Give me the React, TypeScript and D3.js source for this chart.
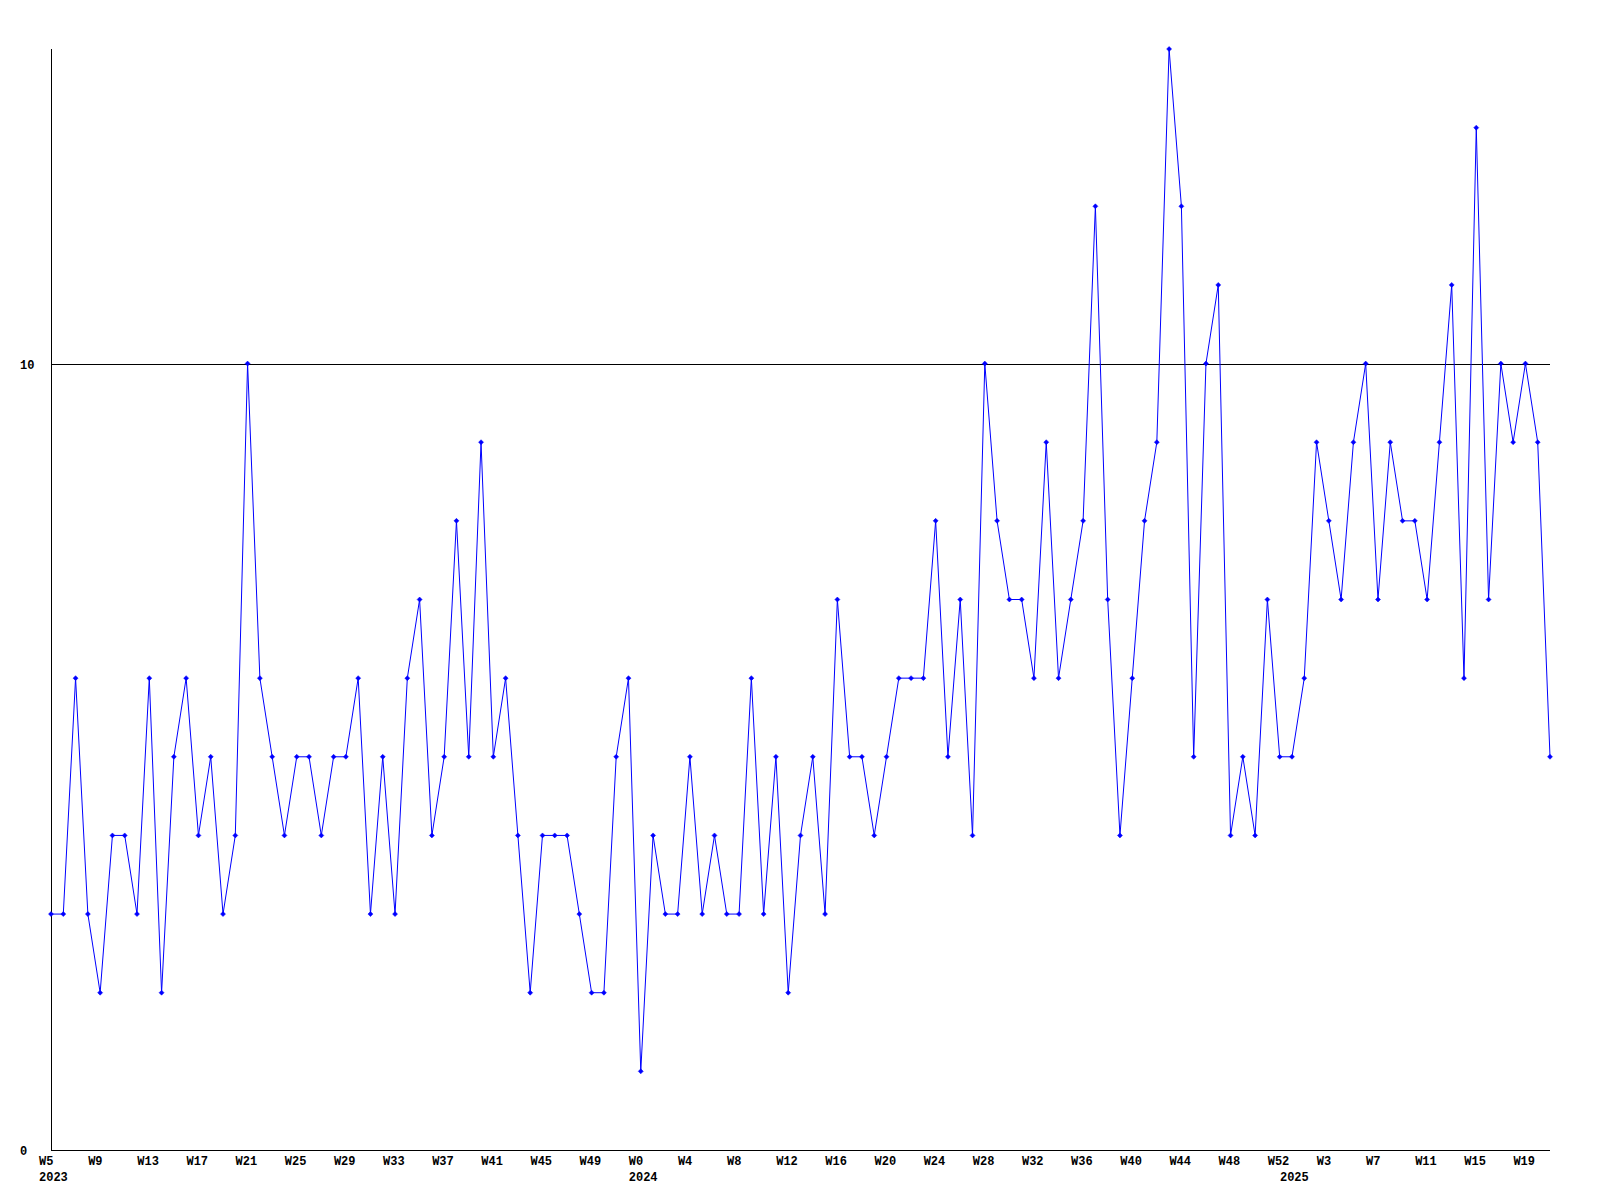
import React, { useEffect, useRef } from 'react';
import * as d3 from 'd3';

// weekly counts, 2023 W5 .. 2025 W21
const counts: number[] = [
  3, 3, 6, 3, 2, 4, 4, 3, 6, 2,
  5, 6, 4, 5, 3, 4, 10, 6, 5, 4,
  5, 5, 4, 5, 5, 6, 3, 5, 3, 6,
  7, 4, 5, 8, 5, 9, 5, 6, 4, 2,
  4, 4, 4, 3, 2, 2, 5, 6, 1, 4,
  3, 3, 5, 3, 4, 3, 3, 6, 3, 5,
  2, 4, 5, 3, 7, 5, 5, 4, 5, 6,
  6, 6, 8, 5, 7, 4, 10, 8, 7, 7,
  6, 9, 6, 7, 8, 12, 7, 4, 6, 8,
  9, 14, 12, 5, 10, 11, 4, 5, 4, 7,
  5, 5, 6, 9, 8, 7, 9, 10, 7, 9,
  8, 8, 7, 9, 11, 6, 13, 7, 10, 9,
  10, 9, 5,
];

// week categories per year
const weeks2023 = d3.range(5, 53).map(w => `W${w}`);
const weeks2024 = d3.range(0, 53).map(w => `W${w}`);
const weeks2025 = d3.range(0, 22).map(w => `W${w}`);
const weeks: string[] = [...weeks2023, ...weeks2024, ...weeks2025];

const yearLabels = ['2023', '2024', '2025'];
const yearStarts = [0, weeks2023.length, weeks2023.length + weeks2024.length];

const yTicks = [0, 10];
const yMax = 14;

const App: React.FC = () => {
  const svgRef = useRef<SVGSVGElement | null>(null);

  useEffect(() => {
    if (!svgRef.current) return;
    const svg = d3.select(svgRef.current);
    svg.selectAll('*').remove();

    const width = 1600;
    const height = 1200;
    const left = 51, right = 1550, top = 49, bottom = 1150;

    const x = d3.scaleLinear().domain([0, weeks.length - 1]).range([left, right]);
    const y = d3.scaleLinear().domain([0, yMax]).range([bottom, top]);

    svg.attr('width', width).attr('height', height);
    svg.append('rect').attr('width', width).attr('height', height).attr('fill', '#fff');

    const font = '"Liberation Mono", "DejaVu Sans Mono", monospace';

    // axes
    svg.append('line')
      .attr('x1', left + 0.5).attr('x2', left + 0.5)
      .attr('y1', top).attr('y2', bottom)
      .attr('stroke', '#000').attr('stroke-width', 1);

    yTicks.forEach(t => {
      const yy = Math.round(y(t)) + 0.5;
      svg.append('line')
        .attr('x1', left).attr('x2', right)
        .attr('y1', yy).attr('y2', yy)
        .attr('stroke', '#000').attr('stroke-width', 1);
      svg.append('text')
        .attr('x', 20).attr('y', yy + 4)
        .attr('font-family', font).attr('font-weight', 'bold').attr('font-size', 12)
        .attr('fill', '#000')
        .text(String(t));
    });

    // week labels every 4th point
    weeks.forEach((w, i) => {
      if (i % 4 !== 0) return;
      svg.append('text')
        .attr('x', x(i) - 12).attr('y', 1165)
        .attr('font-family', font).attr('font-weight', 'bold').attr('font-size', 12)
        .attr('fill', '#000')
        .text(w);
    });

    yearLabels.forEach((yr, k) => {
      svg.append('text')
        .attr('x', x(yearStarts[k]) - 12).attr('y', 1181)
        .attr('font-family', font).attr('font-weight', 'bold').attr('font-size', 12)
        .attr('fill', '#000')
        .text(yr);
    });

    // series line
    const line = d3.line<number>()
      .x((_, i) => x(i))
      .y(d => y(d));

    svg.append('path')
      .datum(counts)
      .attr('d', line)
      .attr('fill', 'none')
      .attr('stroke', '#0000ff')
      .attr('stroke-width', 1);

    // point markers
    svg.append('g')
      .selectAll('path')
      .data(counts)
      .enter()
      .append('path')
      .attr('transform', (d, i) => `translate(${x(i)},${y(d)})`)
      .attr('d', 'M-2.5,0L0,-2.5L2.5,0L0,2.5Z')
      .attr('fill', '#0000ff')
      .attr('stroke', '#0000ff')
      .attr('stroke-width', 0.5);
  }, []);

  return (
    <svg ref={svgRef} style={{ position: 'absolute', left: 0, top: 0, display: 'block' }} />
  );
};

export default App;
